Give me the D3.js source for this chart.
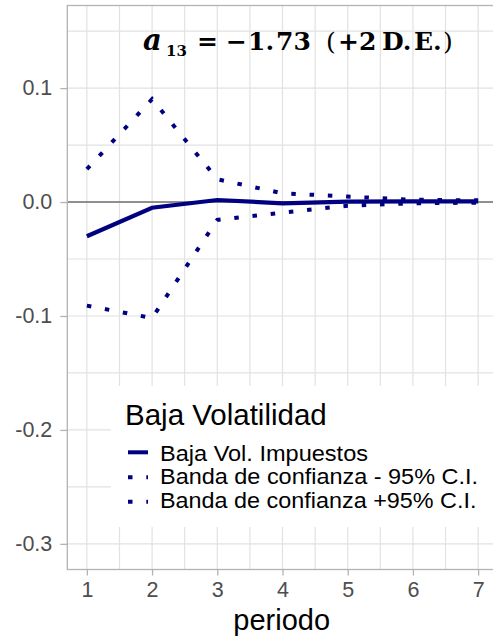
<!DOCTYPE html>
<html>
<head>
<meta charset="utf-8">
<script src="https://cdn.jsdelivr.net/npm/d3@7"></script>
<style>
  html, body { margin: 0; padding: 0; background: #fff; }
  svg { display: block; }
</style>
</head>
<body>
<svg id="chart" width="493" height="642"></svg>
<script>
// ---- data ----
const periods = [1, 2, 3, 4, 5, 6, 7];
const central = [-0.0300, -0.0050, 0.0018, -0.0011, 0.0004, 0.0006, 0.0006];
const lowerBand = [-0.0909, -0.1018, -0.0157, -0.0093, -0.0032, -0.0011, -0.0005];
const upperBand = [0.0288, 0.0903, 0.0200, 0.0077, 0.0048, 0.0020, 0.0015];
const xTicks = [1, 2, 3, 4, 5, 6, 7];
const xTickLabels = ["1", "2", "3", "4", "5", "6", "7"];
const yTicks = [-0.3, -0.2, -0.1, 0.0, 0.1];
const yTickLabels = ["-0.3", "-0.2", "-0.1", "0.0", "0.1"];
const xMinor = [1.5, 2.5, 3.5, 4.5, 5.5, 6.5];
const yMinor = [-0.25, -0.15, -0.05, 0.05, 0.15];
const legendTitle = "Baja Volatilidad";
const seriesNames = ["Baja Vol. Impuestos", "Banda de confianza - 95% C.I.", "Banda de confianza +95% C.I."];
const xTitle = "periodo";

// ---- layout ----
const svg = d3.select("#chart");
const L = 67.3, R = 497.7, T = 5.5, B = 569.5;
const x = d3.scaleLinear().domain([0.7, 7.3]).range([L, R]);
const y = d3.scaleLinear().domain([-0.3225, 0.1725]).range([B, T]);
const navy = "#000080";
const gridCol = "#e2e2e2";
const sans = "Liberation Sans, Arial, sans-serif";

const g = svg.append("g");

// grid
g.selectAll(".gx").data(xMinor.concat(xTicks)).enter().append("line")
  .attr("x1", d => x(d)).attr("x2", d => x(d)).attr("y1", T).attr("y2", B)
  .attr("stroke", gridCol).attr("stroke-width", 1.2);
g.selectAll(".gy").data(yMinor.concat(yTicks)).enter().append("line")
  .attr("x1", L).attr("x2", R).attr("y1", d => y(d)).attr("y2", d => y(d))
  .attr("stroke", gridCol).attr("stroke-width", 1.2);

// zero line
g.append("line").attr("x1", L).attr("x2", R).attr("y1", y(0)).attr("y2", y(0))
  .attr("stroke", "#333").attr("stroke-width", 1.1);

const line = d3.line().x((d, i) => x(periods[i])).y(d => y(d));
const dots = "4.5,13.8";

g.append("path").datum(lowerBand).attr("d", line).attr("fill", "none")
  .attr("stroke", navy).attr("stroke-width", 4).attr("stroke-dasharray", dots);
g.append("path").datum(upperBand).attr("d", line).attr("fill", "none")
  .attr("stroke", navy).attr("stroke-width", 4).attr("stroke-dasharray", dots);
g.append("path").datum(central).attr("d", line).attr("fill", "none")
  .attr("stroke", navy).attr("stroke-width", 4.2);

// legend
const lg = svg.append("g");
lg.append("rect").attr("x", 111).attr("y", 386).attr("width", R - 111).attr("height", 141).attr("fill", "#fff");
lg.append("text").attr("x", 125).attr("y", 425).text(legendTitle)
  .attr("font-family", sans).attr("font-size", 29.5).attr("fill", "#000");
const itemY = [460.5, 484, 507.5];
const keyY = [452.3, 477.3, 501.7];
const itemLen = [208, 318, 316.5];
seriesNames.forEach((name, i) => {
  const k = lg.append("line").attr("x1", 128).attr("x2", 148).attr("y1", keyY[i]).attr("y2", keyY[i])
    .attr("stroke", navy).attr("stroke-width", 4);
  if (i > 0) k.attr("stroke-dasharray", dots);
  lg.append("text").attr("x", 160).attr("y", itemY[i]).text(name)
    .attr("font-family", sans).attr("font-size", 21.5).attr("fill", "#000")
    .attr("textLength", itemLen[i]).attr("lengthAdjust", "spacingAndGlyphs");
});

// panel border
svg.append("rect").attr("x", L).attr("y", T).attr("width", R - L).attr("height", B - T)
  .attr("fill", "none").attr("stroke", "#b3b3b3").attr("stroke-width", 1.3);

// axes
const xAxis = svg.append("g").attr("transform", `translate(0,${B})`)
  .call(d3.axisBottom(x).tickValues(xTicks).tickFormat((d, i) => xTickLabels[i]).tickSize(6).tickPadding(6));
const yAxis = svg.append("g").attr("transform", `translate(${L},0)`)
  .call(d3.axisLeft(y).tickValues(yTicks).tickFormat((d, i) => yTickLabels[i]).tickSize(7).tickPadding(8));
[xAxis, yAxis].forEach(a => {
  a.select(".domain").remove();
  a.selectAll(".tick line").attr("stroke", "#b3b3b3").attr("stroke-width", 1.3);
  a.selectAll(".tick text").attr("font-family", sans)
    .attr("font-size", 21.5).attr("fill", "#4d4d4d");
});

// x title
svg.append("text").attr("x", 281.7).attr("y", 630).attr("text-anchor", "middle").text(xTitle)
  .attr("font-family", sans).attr("font-size", 29).attr("fill", "#000");

// plot title (math-style)
const tt = svg.append("text").attr("y", 50)
  .attr("font-family", "DejaVu Serif, Liberation Serif, serif").attr("font-weight", "bold")
  .attr("font-size", 25).attr("fill", "#000");
tt.append("tspan").attr("x", 143).attr("font-style", "italic").attr("font-size", 29).text("a");
tt.append("tspan").attr("x", 166).attr("font-size", 15).attr("dy", 6).text("13");
tt.append("tspan").attr("x", 197).attr("dy", -6).text("=");
tt.append("tspan").attr("x", 226).text("−");
tt.append("tspan").attr("x", 248).text("1.");
tt.append("tspan").attr("x", 276).text("73");
tt.append("tspan").attr("x", 326).attr("font-weight", "normal").text("(");
tt.append("tspan").attr("x", 338).text("+2");
tt.append("tspan").attr("x", 382).text("D.");
tt.append("tspan").attr("x", 414).text("E.");
tt.append("tspan").attr("x", 443).attr("font-weight", "normal").text(")");
</script>
</body>
</html>
